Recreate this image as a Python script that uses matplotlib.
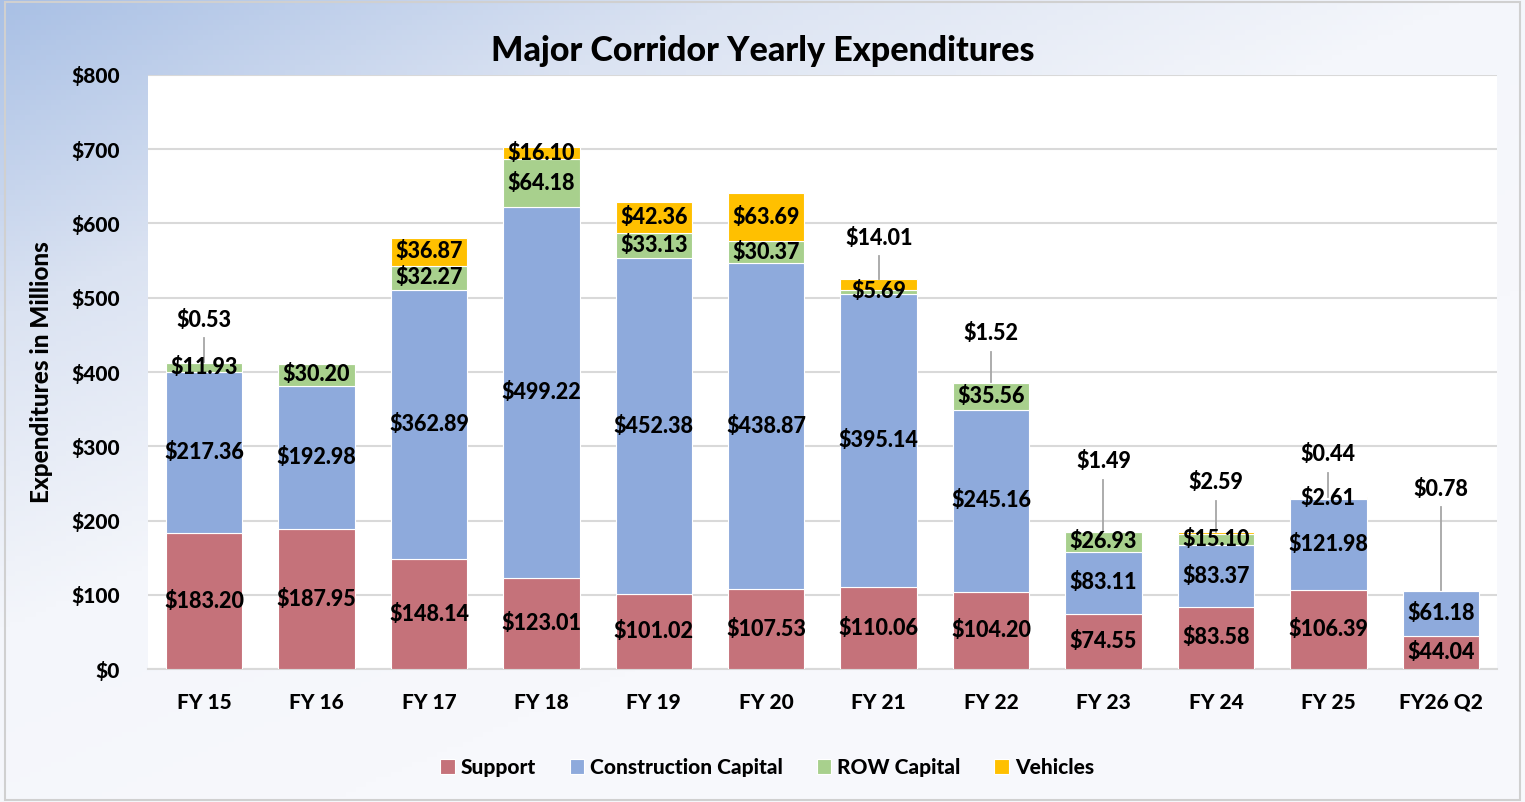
import numpy as np
import matplotlib.pyplot as plt
from matplotlib.colors import LinearSegmentedColormap
from matplotlib.patches import Rectangle

plt.rcParams['font.family'] = ['Lato', 'DejaVu Sans']
plt.rcParams['font.weight'] = 900

years = ['FY 15', 'FY 16', 'FY 17', 'FY 18', 'FY 19', 'FY 20', 'FY 21', 'FY 22', 'FY 23', 'FY 24', 'FY 25', 'FY26 Q2']
support = [183.20, 187.95, 148.14, 123.01, 101.02, 107.53, 110.06, 104.20, 74.55, 83.58, 106.39, 44.04]
construction = [217.36, 192.98, 362.89, 499.22, 452.38, 438.87, 395.14, 245.16, 83.11, 83.37, 121.98, 61.18]
row_capital = [11.93, 30.20, 32.27, 64.18, 33.13, 30.37, 5.69, 35.56, 26.93, 15.10, 2.61, 0.78]
vehicles = [0.53, 0.0, 36.87, 16.10, 42.36, 63.69, 14.01, 1.52, 1.49, 2.59, 0.44, 0.0]

series = [('Support', support, '#c5727a'),
          ('Construction Capital', construction, '#8eaadc'),
          ('ROW Capital', row_capital, '#a8d08d'),
          ('Vehicles', vehicles, '#ffc000')]

# small values shown as callouts above the bar: index -> (series, label rise above bar top)
callouts = {0: (3, 57), 6: (3, 55), 7: (3, 65), 8: (3, 93), 9: (3, 66), 10: (3, 57), 11: (2, 136)}

W = 900
fig = plt.figure(figsize=(15.25, 8.02), dpi=100)

# gradient background
bg = fig.add_axes([0, 0, 1, 1], zorder=-10)
xx, yy = np.meshgrid(np.linspace(0, 1, 300), np.linspace(0, 1, 160))
t = np.clip((xx * 0.9 + yy * 1.1) / 1.3, 0, 1)
cmap = LinearSegmentedColormap.from_list('bg', ['#a9c0e5', '#dbe3f2', '#f4f6fb', '#f7f8fc'])
bg.imshow(t, cmap=cmap, aspect='auto', extent=[0, 1, 0, 1], origin='upper')
bg.add_patch(Rectangle((0.003, 0.003), 0.994, 0.994, fill=False, edgecolor='#d0d0d0', lw=1.5))
bg.set_xlim(0, 1)
bg.set_ylim(0, 1)
bg.axis('off')

ax = fig.add_axes([0.097, 0.1658, 0.8846, 0.7407])
ax.set_facecolor('white')
x = np.arange(len(years))
bottom = np.zeros(len(years))
for si, (name, vals, col) in enumerate(series):
    vals = np.array(vals)
    ax.bar(x, vals, 0.68, bottom=bottom, color=col, edgecolor='white', linewidth=0.8, label=name, zorder=3)
    for i, v in enumerate(vals):
        if v <= 0:
            continue
        if i in callouts and callouts[i][0] == si:
            continue
        ax.text(x[i], bottom[i] + v / 2, f'${v:.2f}', ha='center', va='center',
                fontsize=15.5, fontweight=W, zorder=5)
    bottom = bottom + vals

totals = bottom
for i, (si, rise) in callouts.items():
    v = series[si][1][i]
    top = totals[i]
    ly = top + rise
    ax.plot([x[i], x[i]], [ly - 24, top], color='#a6a6a6', lw=1.3, zorder=4)
    ax.text(x[i], ly, f'${v:.2f}', ha='center', va='center', fontsize=15.5, fontweight=W, zorder=5)

ax.set_xlim(-0.5, len(years) - 0.5)
ax.set_ylim(0, 800)
ax.set_yticks(np.arange(0, 801, 100))
ax.set_yticklabels([f'${v}' for v in range(0, 801, 100)], fontweight=W)
ax.set_xticks(x)
ax.set_xticklabels(years, fontweight=W)
ax.tick_params(axis='both', length=0, labelsize=15)
ax.tick_params(axis='y', pad=20)
ax.tick_params(axis='x', pad=17)
ax.grid(axis='y', color='#d9d9d9', lw=1.5, zorder=0)
ax.set_axisbelow(True)
for s in ['top', 'right', 'left']:
    ax.spines[s].set_visible(False)
ax.spines['bottom'].set_color('#d9d9d9')
ax.spines['bottom'].set_linewidth(1.5)

ax.set_ylabel('Expenditures in Millions', fontsize=17.5, fontweight=W)
ax.yaxis.set_label_coords(-0.07, 0.5)
fig.text(0.5, 0.937, 'Major Corridor Yearly Expenditures', ha='center', va='center',
         fontsize=24.5, fontweight=W)

fig.legend(loc='center', bbox_to_anchor=(0.503, 0.043), ncol=4, frameon=False,
           prop={'size': 15, 'weight': W},
           handlelength=0.7, handleheight=0.7, handletextpad=0.3, columnspacing=1.6)

fig.savefig('out.png', dpi=100)
